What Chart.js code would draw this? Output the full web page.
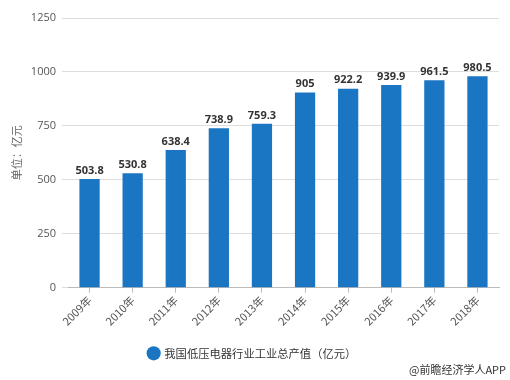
<!DOCTYPE html>
<html><head><meta charset="utf-8">
<script src="https://cdn.jsdelivr.net/npm/chart.js@4"></script>
<style>html,body{margin:0;padding:0;background:#fff}#w{width:510px;height:380px}</style>
</head><body><div id="w"><canvas id="c"></canvas></div>
<script>
const categories = ['2009年','2010年','2011年','2012年','2013年','2014年','2015年','2016年','2017年','2018年'];
const values = [503.8, 530.8, 638.4, 738.9, 759.3, 905, 922.2, 939.9, 961.5, 980.5];
const valueLabels = ['503.8','530.8','638.4','738.9','759.3','905','922.2','939.9','961.5','980.5'];
const yTicks = [0, 250, 500, 750, 1000, 1250];
const seriesName = '我国低压电器行业工业总产值（亿元）';
const yTitle = '单位：亿元';
const footer = '@前瞻经济学人APP';

const FONT = "'Open Sans', 'Noto Sans CJK SC', sans-serif";
const CJK = "'Noto Sans CJK SC', sans-serif";

const labelPlugin = {
  id: 'labels',
  afterDatasetsDraw(chart) {
    const ctx = chart.ctx;
    const meta = chart.getDatasetMeta(0);
    ctx.save();
    ctx.font = 'bold 11px ' + FONT;
    ctx.fillStyle = '#333';
    ctx.textAlign = 'center';
    ctx.textBaseline = 'bottom';
    meta.data.forEach((bar, i) => {
      ctx.fillText(valueLabels[i], bar.x, bar.y - 3);
    });
    ctx.font = '11px ' + CJK;
    ctx.fillStyle = '#333';
    ctx.textAlign = 'right';
    ctx.textBaseline = 'middle';
    ctx.fillText(footer, 506, 370);
    ctx.restore();
  }
};

new Chart(document.getElementById('c'), {
  type: 'bar',
  data: {
    labels: categories,
    datasets: [{
      label: seriesName,
      data: values,
      backgroundColor: '#1a76c2',
      barPercentage: 0.47,
      categoryPercentage: 1.0
    }]
  },
  options: {
    responsive: true,
    maintainAspectRatio: false,
    animation: false,
    layout: { padding: { left: 6, right: 11, top: 18, bottom: 11 } },
    plugins: {
      legend: {
        position: 'bottom',
        labels: {
          usePointStyle: true,
          pointStyle: 'circle',
          boxWidth: 10, boxHeight: 10,
          padding: 10,
          color: '#333',
          font: { family: CJK, size: 11.3 }
        }
      },
      tooltip: { enabled: false }
    },
    scales: {
      x: {
        grid: { offset: false, drawOnChartArea: false, drawTicks: true, tickLength: 5, color: '#bbb' },
        border: { display: true, color: '#bbb' },
        ticks: { maxRotation: 45, minRotation: 45, color: '#555', font: { family: CJK, size: 11 }, padding: 1 },
        afterFit(s) { s.height = 50; }
      },
      y: {
        min: 0, max: 1250,
        afterBuildTicks(s) { s.ticks = yTicks.map(v => ({ value: v })); },
        grid: { color: '#ddd', tickLength: 6 },
        border: { display: false },
        ticks: { color: '#555', font: { family: FONT, size: 11 }, padding: 6, callback: v => String(v) },
        title: { display: true, text: yTitle, color: '#666', font: { family: CJK, size: 11 }, padding: 4 },
        afterFit(s) { s.width = 62; }
      }
    }
  },
  plugins: [labelPlugin]
});
</script></body></html>
